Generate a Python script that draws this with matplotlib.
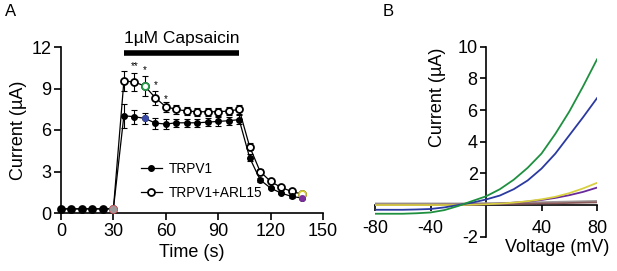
import matplotlib
matplotlib.use("Agg")
import matplotlib.pyplot as plt
import numpy as np

plt.rcParams['font.family'] = ['Liberation Sans', 'DejaVu Sans']
plt.rcParams['axes.unicode_minus'] = False

# ---------------- Panel A data ----------------
time_s = [0, 6, 12, 18, 24, 30, 36, 42, 48, 54, 60, 66, 72, 78, 84, 90, 96, 102,
          108, 114, 120, 126, 132, 138]
trpv1 = [0.3, 0.3, 0.3, 0.3, 0.3, 0.3, 7.03, 6.96, 6.84, 6.5, 6.43, 6.52, 6.52,
         6.52, 6.57, 6.62, 6.67, 6.75, 4.0, 2.4, 1.8, 1.44, 1.2, 1.08]
trpv1_err = [0.05, 0.05, 0.05, 0.05, 0.05, 0.05, 0.85, 0.5, 0.4, 0.4, 0.35, 0.3,
             0.3, 0.3, 0.3, 0.3, 0.3, 0.3, 0.25, 0.15, 0.1, 0.1, 0.1, 0.05]
arl15 = [0.3, 0.3, 0.3, 0.3, 0.3, 0.3, 9.53, 9.48, 9.17, 8.33, 7.68, 7.49, 7.37,
         7.32, 7.32, 7.32, 7.37, 7.49, 4.8, 3.0, 2.28, 1.85, 1.56, 1.37]
arl15_err = [0.05, 0.05, 0.05, 0.05, 0.05, 0.05, 0.7, 0.65, 0.7, 0.5, 0.35, 0.3,
             0.3, 0.3, 0.3, 0.3, 0.3, 0.35, 0.25, 0.15, 0.1, 0.1, 0.1, 0.05]
# highlighted time points: (time, TRPV1 colour, TRPV1+ARL15 colour)
highlight_times = [30, 48, 138]
highlight_trpv1_colors = ['#9a9a9a', '#3a4aa8', '#7a2f9a']
highlight_arl15_colors = ['#e0606a', '#2a9a4a', '#d8cc30']
sig_times = [42, 48, 54, 60]
sig_labels = ['**', '*', '*', '*']
sig_y = [10.65, 10.3, 9.25, 8.2]
caps_start, caps_end = 36, 102
caps_label = '1\u00b5M Capsaicin'
xticksA = [0, 30, 60, 90, 120, 150]
yticksA = [0, 3, 6, 9, 12]

# ---------------- Panel B data ----------------
voltage = [-80, -70, -60, -50, -40, -30, -20, -10, 0, 10, 20, 30, 40, 50, 60, 70, 80]
iv_green = [-0.55, -0.55, -0.55, -0.52, -0.47, -0.32, -0.06, 0.25, 0.55, 1.0, 1.6,
            2.35, 3.25, 4.5, 5.9, 7.5, 9.2]
iv_blue = [-0.3, -0.3, -0.3, -0.28, -0.25, -0.15, 0.0, 0.15, 0.35, 0.6, 1.0,
           1.55, 2.3, 3.25, 4.4, 5.55, 6.75]
iv_yellow = [0.0, 0.0, 0.0, 0.0, 0.0, 0.0, 0.0, 0.02, 0.05, 0.09, 0.15, 0.24,
             0.36, 0.52, 0.75, 1.05, 1.4]
iv_purple = [0.0, 0.0, 0.0, 0.0, 0.0, 0.0, 0.0, 0.02, 0.05, 0.09, 0.15, 0.22,
             0.32, 0.45, 0.62, 0.83, 1.1]
iv_gray = [0.1, 0.1, 0.1, 0.1, 0.1, 0.1, 0.1, 0.11, 0.12, 0.13, 0.14, 0.16, 0.18,
           0.2, 0.22, 0.24, 0.26]
iv_red = [0.02, 0.02, 0.02, 0.02, 0.02, 0.03, 0.03, 0.04, 0.05, 0.06, 0.07, 0.08,
          0.1, 0.11, 0.13, 0.15, 0.17]
xticksB = [-80, -40, 40, 80]
yticksB = [-2, 2, 4, 6, 8, 10]

fig = plt.figure(figsize=(6.17, 2.71), dpi=100)

# ================= Panel A =================
axA = fig.add_axes([61/617, 1-213/271, (323-61)/617, (213-47)/271])
lw = 0.9
ms_open, ms_fill = 5.0, 4.0
axA.errorbar(time_s, arl15, yerr=arl15_err, fmt='none', ecolor='black',
             elinewidth=0.8, capsize=2.2, capthick=0.8, clip_on=False, zorder=2)
axA.errorbar(time_s, trpv1, yerr=trpv1_err, fmt='none', ecolor='black',
             elinewidth=0.8, capsize=2.2, capthick=0.8, clip_on=False, zorder=2)
axA.plot(time_s, arl15, '-', color='black', lw=lw, marker='o', ms=ms_open,
         mfc='white', mec='black', mew=1.3, clip_on=False, zorder=3,
         label='TRPV1+ARL15')
axA.plot(time_s, trpv1, '-', color='black', lw=lw, marker='o', ms=ms_fill,
         mfc='black', mec='black', clip_on=False, zorder=4, label='TRPV1')
for t, ct, ca in zip(highlight_times, highlight_trpv1_colors, highlight_arl15_colors):
    i = time_s.index(t)
    axA.plot([t], [arl15[i]], 'o', ms=ms_open, mfc='white' if t != 30 else '#9a9a9a',
             mec=ca, mew=1.3, clip_on=False, zorder=5)
    axA.plot([t], [trpv1[i]], 'o', ms=ms_fill, mfc=ct, mec=ct, clip_on=False, zorder=6)

for t, s, y in zip(sig_times, sig_labels, sig_y):
    axA.text(t, y, s, ha='center', va='center', fontsize=7)

axA.plot([caps_start, caps_end], [11.58, 11.58], color='black', lw=4,
         solid_capstyle='butt', clip_on=False)
axA.text((caps_start + caps_end) / 2, 12.05, caps_label, ha='center',
         va='bottom', fontsize=12.5)

axA.set_xlim(0, 150)
axA.set_ylim(0, 12)
axA.set_xticks(xticksA)
axA.set_yticks(yticksA)
for sp in ['top', 'right']:
    axA.spines[sp].set_visible(False)
for sp in ['left', 'bottom']:
    axA.spines[sp].set_linewidth(1.2)
axA.tick_params(axis='both', labelsize=13, width=1.2, length=5, pad=2)
axA.set_xlabel('Time (s)', fontsize=13, labelpad=3)
axA.set_ylabel('Current (\u00b5A)', fontsize=13, labelpad=3)

h, l = axA.get_legend_handles_labels()
axA.legend(h[::-1], l[::-1], loc='upper left', bbox_to_anchor=(0.285, 0.34),
           frameon=False, fontsize=9.8, handlelength=1.5, handletextpad=0.5,
           labelspacing=0.7, borderaxespad=0)

fig.text(5/617, 1-12/271, 'A', fontsize=12, ha='left', va='center')

# ================= Panel B =================
axB = fig.add_axes([375/617, 1-236.7/271, (597-375)/617, (236.7-46.7)/271])
for y, c in [(iv_gray, '#a09898'), (iv_red, '#8a5a5a'), (iv_purple, '#6a2a9a'),
             (iv_yellow, '#d8d040'), (iv_blue, '#2a3aa0'), (iv_green, '#1f9040')]:
    axB.plot(voltage, y, color=c, lw=1.3)
axB.set_xlim(-80, 80)
axB.set_ylim(-2, 10)
axB.spines['left'].set_position(('data', 0))
axB.spines['bottom'].set_position(('data', 0))
for sp in ['top', 'right']:
    axB.spines[sp].set_visible(False)
for sp in ['left', 'bottom']:
    axB.spines[sp].set_linewidth(1.2)
    axB.spines[sp].set_zorder(0.5)
axB.set_xticks(xticksB)
axB.set_yticks(yticksB)
axB.tick_params(axis='y', labelsize=13, width=1.2, length=4, pad=2)
axB.tick_params(axis='x', labelsize=13, width=1.2, length=4, pad=7)
fig.text(437/617, 1-97/271, 'Current (\u00b5A)', rotation=90, ha='center',
         va='center', fontsize=13)
fig.text(557/617, 1-248/271, 'Voltage (mV)', ha='center', va='center',
         fontsize=13)
fig.text(383/617, 1-12/271, 'B', fontsize=12, ha='left', va='center')

fig.savefig('out.png', dpi=100)
